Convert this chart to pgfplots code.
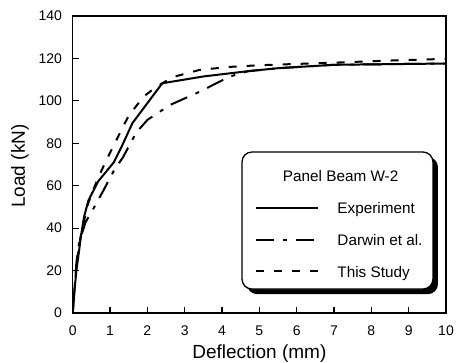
\documentclass[border=0pt]{standalone}
\usepackage{fontspec}
\setmainfont{Liberation Sans}
\usepackage{pgfplots}
\pgfplotsset{compat=1.18}

% Load-deflection response of panel beam W-2
\pgfplotstableread{
x y
0 0
0.05 11
0.1 20
0.22 36
0.3 45
0.42 53
0.68 62
1.1 71
1.3 78
1.6 89.5
2.4 108.3
3.5 111.5
4.7 114
5.5 115.4
7 117
10 117.6
}\experiment

\pgfplotstableread{
x y
0 0
0.05 12
0.1 24
0.18 34
0.35 43
0.58 50
0.8 57
1.1 67
1.35 73.5
1.7 85
2.0 91
2.6 98
3.4 104.3
4.2 111.4
4.7 114
5.5 115.4
7 117
10 117.6
}\darwin

\pgfplotstableread{
x y
0 0
0.05 12
0.1 22
0.2 35
0.4 51
0.64 62
0.86 70.5
1.26 84.7
1.5 93
1.9 102
2.25 106.8
2.7 111.3
3.4 114.6
4.2 116
5 116.8
7 118
8.5 119
10 119.8
}\thisstudy

\begin{document}
\begin{tikzpicture}
\begin{axis}[
  scale only axis, width=373.3pt, height=297pt,
  xmin=0, xmax=10, ymin=0, ymax=140,
  xtick={0,1,...,10}, ytick={0,20,...,140},
  tick align=inside, tick pos=left, major tick length=6pt,
  tick style={line width=1.2pt, black},
  axis line style={line width=1.2pt},
  /pgf/number format/assume math mode=true,
  ticklabel style={font=\fontsize{14}{16}\selectfont},
  xticklabel style={anchor=north, inner sep=0pt, yshift=-13pt},
  yticklabel style={anchor=east, inner sep=0pt, xshift=-10.5pt},
  xlabel={Deflection (mm)}, ylabel={Load (kN)},
  xlabel style={at={(axis description cs:0.5,-0.1525)}, anchor=base, font=\fontsize{19}{22}\selectfont},
  ylabel style={at={(axis description cs:-0.1278,0.495)}, anchor=base, font=\fontsize{19}{22}\selectfont},
  legend style={
    at={(axis description cs:0.4891,0.4791)}, anchor=north west,
    draw=none, fill=none, inner sep=0pt,
    font=\fontsize{15.3}{18}\selectfont,
    nodes={inner sep=0pt, text height=11pt, text depth=3.5pt},
    row sep=17.2pt, column sep=18pt,
  },
  legend cell align=left,
  legend image code/.code={\draw[#1] (0pt,2pt) -- (62pt,2pt);},
  curve/.style={black, line width=2pt},
  dashdot/.style={dash pattern=on 18pt off 9pt on 4pt off 9pt},
  shortdash/.style={dash pattern=on 8pt off 10pt},
]
% legend frame with its solid offset shadow
\fill[black, rounded corners=10pt] (axis cs:4.67,73.5) rectangle (axis cs:9.784,8.9);
\draw[black, line width=1.3pt, fill=white, rounded corners=10pt] (axis cs:4.535,75.9) rectangle (axis cs:9.65,11.3);

\addlegendimage{empty legend}
\addlegendentry{\makebox[0pt][l]{\hspace*{-55pt}Panel Beam W-2}}

\addplot[curve] table {\experiment};
\addlegendentry{Experiment}

\addplot[curve, dashdot] table {\darwin};
\addlegendentry{Darwin et al.}

\addplot[curve, shortdash] table {\thisstudy};
\addlegendentry{This Study}
\end{axis}
\pgfresetboundingbox
\path (-72.7pt,-49pt) rectangle (384.3pt,313pt);
\end{tikzpicture}
\end{document}
